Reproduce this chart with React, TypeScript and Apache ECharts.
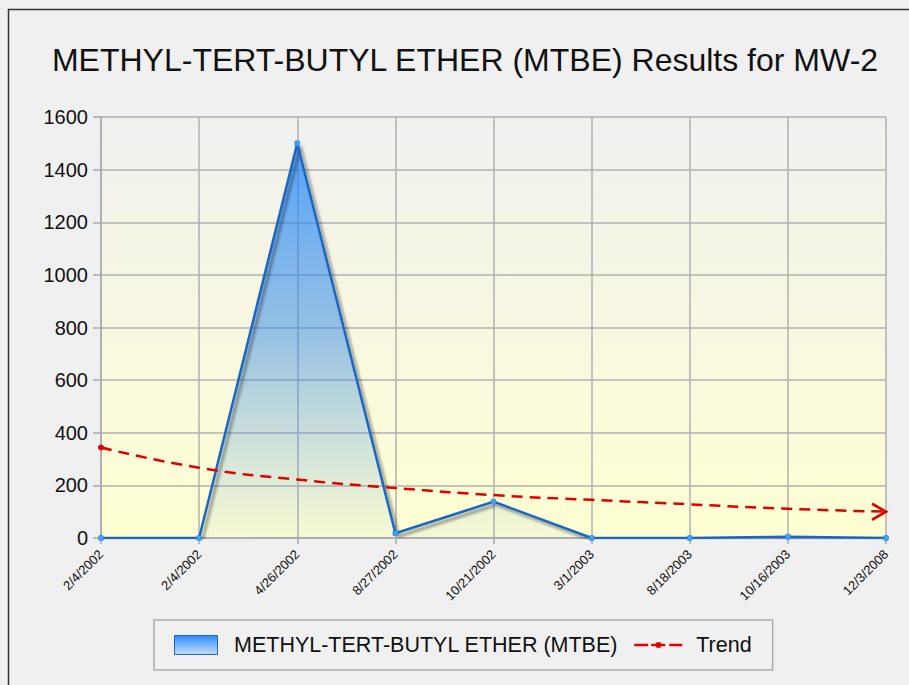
import React, { useEffect, useRef } from "react";
import * as echarts from "echarts";

const categories = ["2/4/2002", "2/4/2002", "4/26/2002", "8/27/2002", "10/21/2002", "3/1/2003", "8/18/2003", "10/16/2003", "12/3/2008"];
const mtbeValues = [0, 0, 1500, 18, 138, 0, 0, 5, 0];
const trendValues = [344, 267, 222, 190, 163, 145, 128, 111, 100];
const yTicks = { min: 0, max: 1600, interval: 200 };
const seriesNames = ["METHYL-TERT-BUTYL ETHER (MTBE)", "Trend"];
const titleText = "METHYL-TERT-BUTYL ETHER (MTBE) Results for MW-2";

const FONT = "'Liberation Sans', Arial, sans-serif";

export default function App() {
  const ref = useRef<HTMLDivElement>(null);
  useEffect(() => {
    document.body.style.margin = "0";
    if (!ref.current) return;
    const chart = echarts.init(ref.current, null, { renderer: "svg" });
    const last = trendValues.length - 1;
    const trendData = trendValues.map((v, i) => {
      if (i === 0) return { value: v, symbol: "circle", symbolSize: 6 };
      if (i === last)
        return {
          value: v,
          symbol: "path://M0,0 L10,5 L0,10",
          symbolSize: [14, 16],
          symbolOffset: [-7, 0],
          itemStyle: { color: "rgba(0,0,0,0)", borderColor: "#e00000", borderWidth: 2.5 },
        };
      return { value: v, symbol: "none" };
    });
    chart.setOption({
      animation: false,
      backgroundColor: "#f0f0f0",
      textStyle: { fontFamily: FONT },
      graphic: [
        { type: "line", shape: { x1: 8, y1: 9.5, x2: 909, y2: 9.5 }, style: { stroke: "#333", lineWidth: 1.5 } },
        { type: "line", shape: { x1: 8.5, y1: 9, x2: 8.5, y2: 685 }, style: { stroke: "#333", lineWidth: 1.5 } },
        {
          type: "text",
          x: 465,
          y: 60,
          style: {
            text: titleText,
            textAlign: "center",
            textVerticalAlign: "middle",
            fontSize: 32,
            fontFamily: FONT,
            fill: "#111",
          },
        },
      ],
      grid: {
        left: 101,
        top: 117,
        right: 23,
        bottom: 147,
        show: true,
        borderWidth: 0,
        backgroundColor: new echarts.graphic.LinearGradient(0, 0, 0, 1, [
          { offset: 0, color: "#f0f0f0" },
          { offset: 1, color: "#ffffd2" },
        ]),
      },
      legend: {
        left: 154,
        top: 620,
        padding: [14, 21, 14, 20],
        borderColor: "#aaa",
        borderWidth: 1.5,
        itemGap: 16,
        itemWidth: 48,
        itemHeight: 19,
        textStyle: { fontSize: 21.5, color: "#111", fontFamily: FONT, padding: [0, 0, 0, 9] },
        data: [
          {
            name: seriesNames[0],
            icon: "path://M0,0 h43 v19 h-43 z",
            itemStyle: {
              color: new echarts.graphic.LinearGradient(0, 0, 0, 1, [
                { offset: 0, color: "#2a8cff" },
                { offset: 1, color: "#c8def5" },
              ]),
              borderColor: "#1a66c4",
              borderWidth: 1,
            },
          },
          {
            name: seriesNames[1],
            icon: "path://M0,3 h14 v2.5 h-14 z M17,3 h14 v2.5 h-14 z M35,3 h13 v2.5 h-13 z M22,1.5 h4.5 v5.5 h-4.5 z",
            itemStyle: { color: "#e00000", borderWidth: 0 },
          },
        ],
      },
      xAxis: {
        type: "category",
        data: categories,
        boundaryGap: false,
        axisLine: { show: true, lineStyle: { color: "#aaa", width: 1.5 } },
        axisTick: { show: true, length: 6, lineStyle: { color: "#aaa", width: 1.5 } },
        splitLine: { show: true, lineStyle: { color: "#b0b0b0", width: 1.5 } },
        axisLabel: { rotate: 45, fontSize: 13, color: "#111", margin: 14, interval: 0, fontFamily: FONT },
      },
      yAxis: {
        type: "value",
        min: yTicks.min,
        max: yTicks.max,
        interval: yTicks.interval,
        axisLine: { show: true, lineStyle: { color: "#aaa", width: 1.5 } },
        axisTick: { show: true, length: 8, lineStyle: { color: "#aaa", width: 1.5 } },
        splitLine: { show: true, lineStyle: { color: "#b0b0b0", width: 1.5 } },
        axisLabel: {
          fontSize: 20,
          color: "#111",
          margin: 13,
          fontFamily: FONT,
          formatter: (v: number) => String(v),
        },
      },
      series: [
        {
          name: seriesNames[0],
          type: "line",
          data: mtbeValues,
          symbol: "roundRect",
          symbolSize: 5,
          itemStyle: { color: "#3fa2ff", borderColor: "#1a70d0", borderWidth: 0.5 },
          lineStyle: {
            color: "#1a66c4",
            width: 2.5,
            shadowColor: "rgba(0,0,0,0.45)",
            shadowBlur: 3,
            shadowOffsetX: 3,
            shadowOffsetY: 3,
          },
          areaStyle: {
            color: new echarts.graphic.LinearGradient(0, 0, 0, 1, [
              { offset: 0, color: "rgba(20,130,255,1)" },
              { offset: 0.5, color: "rgba(40,130,230,0.65)" },
              { offset: 1, color: "rgba(100,160,220,0.08)" },
            ]),
          },
          z: 2,
        },
        {
          name: seriesNames[1],
          type: "line",
          data: trendData,
          smooth: true,
          symbol: "circle",
          symbolSize: 6,
          itemStyle: { color: "#e00000" },
          lineStyle: { color: "#e00000", width: 2.5, type: [11, 7] },
          z: 3,
        },
      ],
    });
    return () => chart.dispose();
  }, []);
  return <div ref={ref} style={{ width: 909, height: 685 }} />;
}
